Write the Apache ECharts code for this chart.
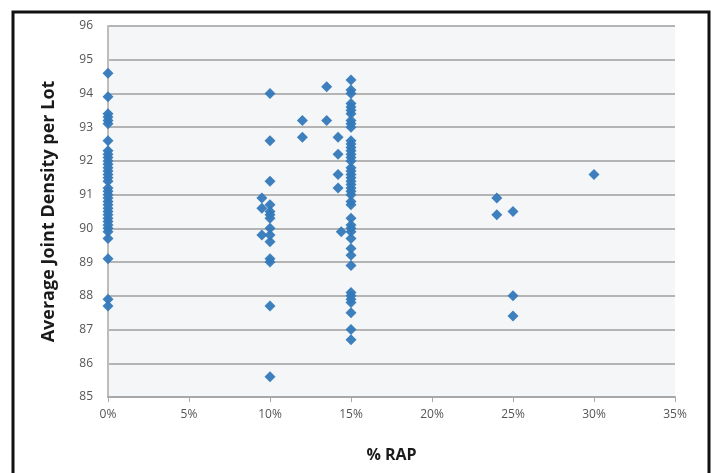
<!DOCTYPE html>
<html>
<head>
<meta charset="utf-8">
<script src="https://cdn.jsdelivr.net/npm/echarts@6/dist/echarts.min.js"></script>
<style>
html,body{margin:0;padding:0;background:#fff;}
#chart{width:718px;height:473px;}
</style>
</head>
<body>
<div id="chart"></div>
<script>
// x = % RAP, y = Average Joint Density per Lot
const rap0 = [94.6, 93.9, 93.4, 93.3, 93.2, 93.1, 92.6, 92.3, 92.2, 92.1, 92.0, 91.9, 91.8, 91.7, 91.6, 91.5, 91.4, 91.2, 91.1, 91.0, 90.9, 90.8, 90.7, 90.6, 90.5, 90.4, 90.3, 90.2, 90.1, 90.0, 89.9, 89.7, 89.1, 87.9, 87.7];
const rap9_5 = [90.9, 90.6, 89.8];
const rap10 = [94.0, 92.6, 91.4, 90.7, 90.5, 90.4, 90.3, 90.0, 89.8, 89.6, 89.1, 89.0, 87.7, 85.6];
const rap12 = [93.2, 92.7];
const rap13_5 = [94.2, 93.2];
const rap14_2 = [92.7, 92.2, 91.6, 91.2];
const rap14_4 = [89.9];
const rap15 = [94.4, 94.1, 94.0, 93.7, 93.6, 93.5, 93.4, 93.2, 93.1, 93.0, 92.6, 92.5, 92.4, 92.3, 92.2, 92.1, 92.0, 91.8, 91.7, 91.6, 91.5, 91.4, 91.3, 91.2, 91.1, 91.0, 90.8, 90.7, 90.3, 90.1, 90.0, 89.9, 89.7, 89.4, 89.2, 88.9, 88.1, 88.0, 87.9, 87.8, 87.5, 87.0, 86.7];
const rap24 = [90.9, 90.4];
const rap25 = [90.5, 88.0, 87.4];
const rap30 = [91.6];

const groups = [[0, rap0], [9.5, rap9_5], [10, rap10], [12, rap12], [13.5, rap13_5], [14.2, rap14_2], [14.4, rap14_4], [15, rap15], [24, rap24], [25, rap25], [30, rap30]];
const points = [];
groups.forEach(([x, ys]) => ys.forEach(y => points.push([x, y])));

const chart = echarts.init(document.getElementById('chart'));
const labelFont = {color: '#555', fontSize: 12, fontFamily: 'Open Sans'};
chart.setOption({
  animation: false,
  backgroundColor: '#fff',
  grid: {left: 108, right: 43, top: 26, bottom: 76, show: true, backgroundColor: '#f4f6f7', borderWidth: 0},
  xAxis: {
    type: 'value', min: 0, max: 35, interval: 5,
    name: '% RAP', nameLocation: 'middle', nameGap: 50,
    nameTextStyle: {color: '#1a1a1a', fontSize: 16, fontWeight: 'bold', fontFamily: 'Open Sans'},
    axisLine: {show: true, onZero: false, lineStyle: {color: '#a8a8a8', width: 2}},
    axisTick: {show: true, length: 5, lineStyle: {color: '#a8a8a8', width: 1}},
    axisLabel: Object.assign({margin: 12, formatter: v => v + '%'}, labelFont),
    splitLine: {show: false}
  },
  yAxis: {
    type: 'value', min: 85, max: 96, interval: 1,
    name: 'Average Joint Density per Lot', nameLocation: 'middle', nameGap: 50,
    nameTextStyle: {color: '#1a1a1a', fontSize: 18, fontWeight: 'bold', fontFamily: 'Open Sans'},
    axisLine: {show: true, lineStyle: {color: '#bdbdbd', width: 2}},
    axisTick: {show: false},
    axisLabel: Object.assign({margin: 15}, labelFont),
    splitLine: {show: true, lineStyle: {color: '#b4b4b4', width: 2}}
  },
  series: [{
    type: 'scatter',
    data: points,
    symbol: 'diamond',
    symbolSize: 11,
    itemStyle: {color: '#3479bb', opacity: 0.95}
  }],
  graphic: [{
    type: 'rect', z: 100, silent: true,
    shape: {x: 13, y: 12, width: 696, height: 480},
    style: {fill: 'none', stroke: '#111', lineWidth: 3}
  }]
});
</script>
</body>
</html>
